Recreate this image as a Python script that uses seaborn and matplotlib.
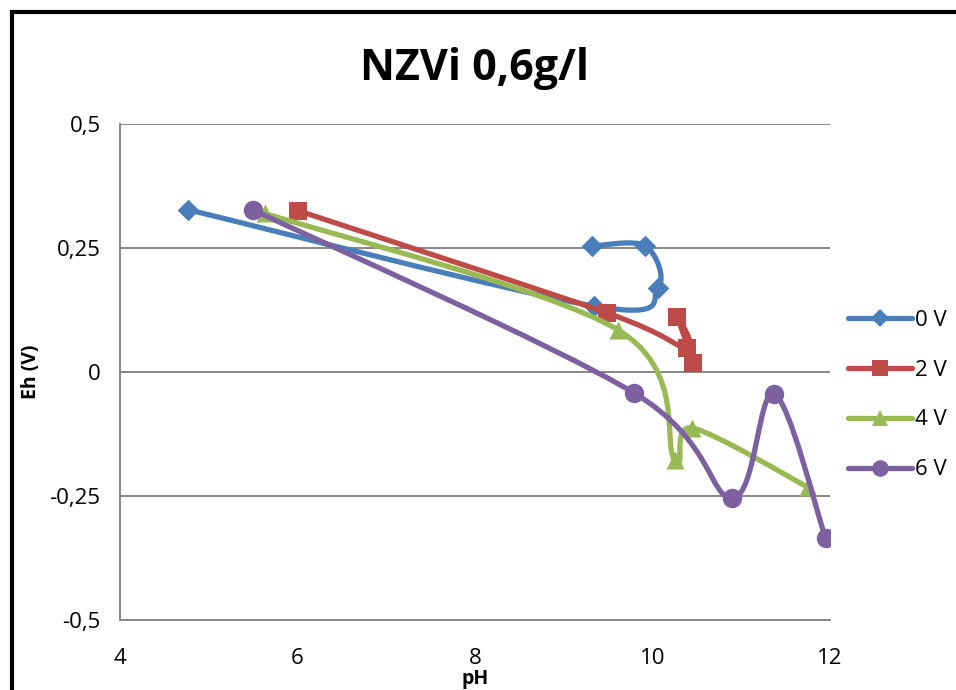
import numpy as np
import pandas as pd
import matplotlib
matplotlib.use("Agg")
import matplotlib.pyplot as plt
import seaborn as sns
from matplotlib.path import Path
from matplotlib.patches import PathPatch, Rectangle
from matplotlib.lines import Line2D
from matplotlib.ticker import FuncFormatter

# data
ph_0v = [4.77, 9.34, 10.06, 9.92, 9.32]
eh_0v = [0.327, 0.133, 0.169, 0.254, 0.254]
ph_2v = [6.01, 9.49, 10.39, 10.28, 10.46]
eh_2v = [0.325, 0.119, 0.048, 0.111, 0.018]
ph_4v = [5.63, 9.61, 10.25, 10.45, 11.75]
eh_4v = [0.320, 0.085, -0.177, -0.113, -0.232]
ph_6v = [5.50, 9.79, 10.90, 11.37, 11.95]
eh_6v = [0.327, -0.042, -0.254, -0.044, -0.335]

series_names = ["0 V", "2 V", "4 V", "6 V"]
colors = ["#4A7EBB", "#BE4B48", "#98B954", "#7D60A0"]
markers = ["D", "s", "^", "o"]
msizes = [11, 13, 13, 14]

rows = []
for name, xs, ys in zip(series_names, [ph_0v, ph_2v, ph_4v, ph_6v],
                        [eh_0v, eh_2v, eh_4v, eh_6v]):
    for i, (x, y) in enumerate(zip(xs, ys)):
        rows.append({"serie": name, "pH": x, "Eh": y, "order": i})
df = pd.DataFrame(rows)


def smooth_path(xs, ys):
    # Excel-like smoothed line: cubic bezier through the points
    p = np.column_stack([xs, ys])
    n = len(p)
    verts = [p[0]]
    codes = [Path.MOVETO]
    for i in range(n - 1):
        p0 = p[i - 1] if i > 0 else p[i]
        p3 = p[i + 2] if i + 2 < n else p[i + 1]
        c1 = p[i] + (p[i + 1] - p0) / 6.0
        c2 = p[i + 1] - (p3 - p[i]) / 6.0
        verts += [c1, c2, p[i + 1]]
        codes += [Path.CURVE4] * 3
    return Path(verts, codes)


sns.set_style("white")
plt.rcParams['font.family'] = ['Open Sans', 'DejaVu Sans']
plt.rcParams['text.color'] = 'black'
plt.rcParams['axes.labelcolor'] = 'black'
plt.rcParams['xtick.color'] = 'black'
plt.rcParams['ytick.color'] = 'black'

fig = plt.figure(figsize=(9.56, 6.9), dpi=100)
ax = fig.add_axes([120 / 956, 70 / 690, 710 / 956, 496 / 690])

for k, name in enumerate(series_names):
    d = df[df["serie"] == name].sort_values("order")
    patch = PathPatch(smooth_path(d["pH"].values, d["Eh"].values),
                      facecolor="none", edgecolor=colors[k], lw=3.8,
                      capstyle="round", joinstyle="round", zorder=3 + 2 * k)
    ax.add_patch(patch)
    sns.scatterplot(data=d, x="pH", y="Eh", marker=markers[k], color=colors[k],
                    s=msizes[k] ** 2, linewidth=0, ax=ax, legend=False,
                    zorder=4 + 2 * k)

ax.set_xlim(4, 12)
ax.set_ylim(-0.5, 0.5)
ax.set_xticks([4, 6, 8, 10, 12])
ax.set_yticks([-0.5, -0.25, 0, 0.25, 0.5])
ax.yaxis.set_major_formatter(FuncFormatter(lambda v, p: ("%g" % v).replace(".", ",")))
ax.tick_params(axis="both", length=0, labelsize=16, labelcolor="black")
ax.tick_params(axis="y", pad=14)
ax.tick_params(axis="x", pad=20)
ax.grid(axis="y", color="#868686", lw=1.4)
ax.grid(axis="x", visible=False)
for s in ["top", "right"]:
    ax.spines[s].set_visible(False)
for s in ["left", "bottom"]:
    ax.spines[s].set_color("#868686")
    ax.spines[s].set_linewidth(1.4)

ax.set_xlabel("pH", fontsize=14, fontweight="bold", color="black")
ax.xaxis.set_label_coords(0.5, -0.098)
ax.set_ylabel("Eh (V)", fontsize=14, fontweight="bold", color="black")
ax.yaxis.set_label_coords(-0.111, 0.5)
ax.set_title("NZVi 0,6g/l", fontsize=31, fontweight="bold", pad=32, color="black")

handles = [Line2D([0], [0], color=c, lw=3.8, marker=m, markersize=ms * 0.85,
                  markeredgewidth=0, solid_capstyle="round")
           for c, m, ms in zip(colors, markers, msizes)]
fig.legend(handles, series_names, loc="center left",
           bbox_to_anchor=(848 / 956, 1 - 395 / 690), frameon=False,
           fontsize=16, handlelength=2.9, handletextpad=0.1, labelspacing=1.3,
           borderaxespad=0, borderpad=0, labelcolor="black")

# outer chart border
fig.patches.append(Rectangle((12 / 956, -0.05), 1.0, 1 - 12 / 690 + 0.05,
                             transform=fig.transFigure, fill=False,
                             edgecolor="black", lw=3, zorder=0))

fig.savefig("out.png", dpi=100)
